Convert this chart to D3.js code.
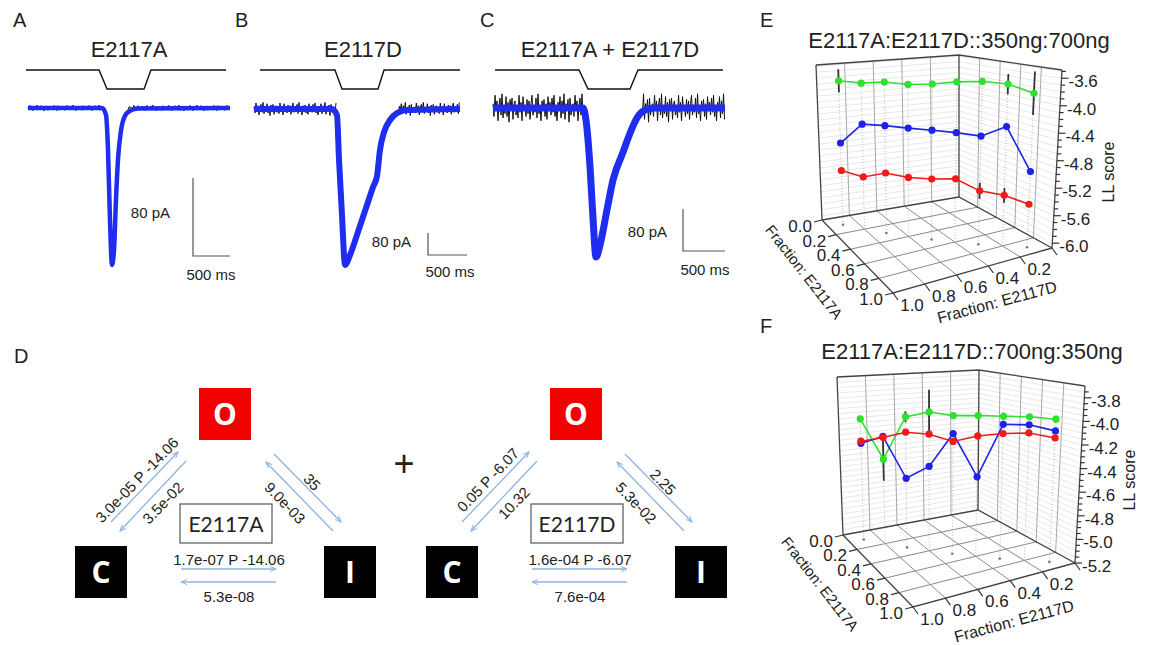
<!DOCTYPE html>
<html>
<head>
<meta charset="utf-8">
<script src="https://cdn.jsdelivr.net/npm/d3@7"></script>
<style>
body { margin: 0; background: #fff; }
svg text { font-family: "Liberation Sans", Arial, sans-serif; fill: #222; }
</style>
</head>
<body>
<div id="fig"></div>
<script>
// ---------- data ----------
const traceTitles = ["E2117A", "E2117D", "E2117A + E2117D"];

// averaged current traces: time (ms), current (pA)
const traceA_t = [0, 1000, 1054, 1081, 1108, 1135, 1162, 1189, 1216, 1257, 1311, 1378, 1486, 2730];
const traceA_i = [0, 0, -7, -43, -115, -161, -146, -94, -53, -23, -8, -3, -0.5, 0];
const traceB_t = [0, 1000, 1064, 1090, 1128, 1167, 1231, 1333, 1436, 1526, 1577, 1615, 1667, 1744, 1833, 1962, 2641];
const traceB_i = [0, 0, -22, -185, -385, -567, -531, -447, -360, -284, -244, -149, -84, -40, -15, -4, 0];
const traceC_t = [0, 1071, 1107, 1155, 1190, 1226, 1274, 1357, 1429, 1548, 1631, 1714, 1810, 1929, 2762];
const traceC_i = [0, 0, -23, -112, -208, -284, -261, -194, -137, -84, -48, -19, -4, 0, 0];

// stimulus protocol: time (ms) and level (1 = off, 0 = on)
const protoA_t = [-27, 960, 1068, 1568, 1662, 2676];
const protoB_t = [77, 1038, 1128, 1590, 1667, 2641];
const protoC_t = [24, 1024, 1131, 1631, 1726, 2738];
const protoLevel = [1, 1, 0, 0, 1, 1];

// single-trace noise seen behind the averages (relative units)
const noise = [0.3, -0.6, 0.9, -0.2, 0.5, -0.9, 0.2, 0.7, -0.5, 1.0, -0.7, 0.1, -0.4, 0.8, -0.6, 0.4, -1.0, 0.6, -0.1, 0.7,
  -0.8, 0.3, 0.5, -0.5, 0.2, -0.7, 0.9, -0.3, 0.4, -0.9, 0.8, -0.2, 0.1, -0.6, 0.6, -0.4, 0.5, -0.8, 0.3, 0.9,
  -0.5, 0.2, -0.3, 0.7, -0.7, 1.0, -0.4, 0.1, -0.9, 0.5, -0.2, 0.6, -0.6, 0.3, -0.8, 0.8, -0.1, 0.4, -0.5, 0.7,
  -0.3, 0.9, -0.6, 0.2, -0.9, 0.4, -0.1, 0.8, -0.7, 0.5, -0.4, 1.0, -0.8, 0.3, -0.2, 0.6, -1.0, 0.7, -0.5, 0.1];

// kinetic schemes
const stateNames = ["O", "C", "I"];
const mutantNames = ["E2117A", "E2117D"];
const rateCO = ["3.0e-05 P -14.06", "0.05 P -6.07"];
const rateOC = ["3.5e-02", "10.32"];
const rateOI = ["35", "2.25"];
const rateIO = ["9.0e-03", "5.3e-02"];
const rateCI = ["1.7e-07 P -14.06", "1.6e-04 P -6.07"];
const rateIC = ["5.3e-08", "7.6e-04"];

// LL scores vs. fractions (fraction E2117A + fraction E2117D = 1)
const fracA = [0.1, 0.2, 0.3, 0.4, 0.5, 0.6, 0.7, 0.8, 0.9];
const fracD = [0.9, 0.8, 0.7, 0.6, 0.5, 0.4, 0.3, 0.2, 0.1];
const fracTicks = [0, 0.2, 0.4, 0.6, 0.8, 1.0];

const eGreen = [-3.71, -3.72, -3.68, -3.70, -3.68, -3.64, -3.63, -3.67, -3.81];
const eBlue = [-4.73, -4.38, -4.37, -4.38, -4.39, -4.41, -4.45, -4.30, -4.96];
const eRed = [-5.18, -5.23, -5.12, -5.15, -5.14, -5.11, -5.27, -5.32, -5.44];
const eGreenErr = [0.19, 0, 0, 0, 0, 0, 0, 0.15, 0.32];
const eBlueErr = [0, 0, 0, 0, 0, 0, 0, 0, 0];
const eRedErr = [0, 0, 0, 0, 0, 0, 0.12, 0.11, 0];
const eTicks = [-3.6, -4.0, -4.4, -4.8, -5.2, -5.6, -6.0];

const fGreen = [-4.07, -4.42, -4.01, -3.95, -3.97, -3.96, -3.96, -3.96, -3.98];
const fBlue = [-4.30, -4.21, -4.57, -4.44, -4.13, -4.50, -4.03, -4.03, -4.08];
const fRed = [-4.28, -4.22, -4.15, -4.15, -4.20, -4.14, -4.11, -4.10, -4.14];
const fGreenErr = [0.02, 0.2, 0.05, 0.2, 0, 0, 0.03, 0, 0];
const fBlueErr = [0, 0, 0, 0, 0, 0, 0, 0, 0];
const fRedErr = [0, 0, 0, 0, 0, 0, 0, 0, 0];
const fTicks = [-3.8, -4.0, -4.2, -4.4, -4.6, -4.8, -5.0, -5.2];

// ---------- page ----------
const W = 1151, H = 645;
const svg = d3.select("#fig").append("svg").attr("width", W).attr("height", H);

const blue = "#1e2df0";

// panel letters
const letters = [["A", 13, 27], ["B", 235, 27], ["C", 480, 27], ["D", 14, 363], ["E", 760, 27], ["F", 760, 333]];
svg.selectAll("text.letter").data(letters).join("text")
  .attr("class", "letter")
  .attr("x", d => d[1]).attr("y", d => d[2])
  .attr("font-size", 20)
  .text(d => d[0]);

// ---------- A, B, C : current traces ----------
const tracePanels = [
  {title: traceTitles[0], cx: 129, t: traceA_t, i: traceA_i, proto: protoA_t, x0: 28, px500: 37, y0: 108, px80: 78,
   width: 4.5, amp: 3, quiet: [[0, 1010], [1350, 2730]], bar: [193, 256], pa: [170, 218], ms: [211, 280]},
  {title: traceTitles[1], cx: 363, t: traceB_t, i: traceB_i, proto: protoB_t, x0: 254, px500: 39, y0: 109, px80: 22,
   width: 6, amp: 24, quiet: [[0, 1060], [1850, 2641]], bar: [428, 255], pa: [411, 247], ms: [450, 277]},
  {title: traceTitles[2], cx: 610, t: traceC_t, i: traceC_i, proto: protoC_t, x0: 493, px500: 42, y0: 108, px80: 42,
   width: 7, amp: 27, quiet: [[0, 1085], [1780, 2762]], bar: [683, 251], pa: [667, 237], ms: [705, 275]}
];

tracePanels.forEach(p => {
  const g = svg.append("g");
  const x = d3.scaleLinear().domain([0, 500]).range([p.x0, p.x0 + p.px500]);
  const y = d3.scaleLinear().domain([0, -80]).range([p.y0, p.y0 + p.px80]);
  const yp = d3.scaleLinear().domain([0, 1]).range([89, 70]);

  // title
  g.append("text").attr("x", p.cx).attr("y", 57).attr("text-anchor", "middle")
    .attr("font-size", 22).text(p.title);

  // stimulus protocol
  g.append("path")
    .datum(p.proto.map((t, k) => [x(t), yp(protoLevel[k])]))
    .attr("fill", "none").attr("stroke", "#111").attr("stroke-width", 1.4)
    .attr("d", d3.line());

  // noisy single traces on the baseline
  const step = x.invert(x(0) + 1) - x.invert(x(0));
  p.quiet.forEach(([t0, t1]) => {
    const pts = [];
    let k = Math.round(t0 / step);
    for (let t = t0; t <= t1; t += step, k++) pts.push([x(t), y(noise[k % noise.length] * p.amp)]);
    g.append("path").datum(pts)
      .attr("fill", "none").attr("stroke", "#111").attr("stroke-width", 1)
      .attr("d", d3.line());
  });

  // averaged trace
  g.append("path")
    .datum(p.t.map((t, k) => [x(t), y(p.i[k])]))
    .attr("fill", "none").attr("stroke", blue).attr("stroke-width", p.width)
    .attr("stroke-linejoin", "round")
    .attr("d", d3.line().curve(d3.curveMonotoneX));

  // scale bars
  const bx = p.bar[0], by = p.bar[1];
  const lenT = x(500) - x(0), lenI = y(-80) - y(0);
  g.append("path")
    .attr("d", `M${bx},${by - lenI}V${by}H${bx + lenT}`)
    .attr("fill", "none").attr("stroke", "#555").attr("stroke-width", 1.2);
  g.append("text").attr("x", p.pa[0]).attr("y", p.pa[1]).attr("text-anchor", "end")
    .attr("font-size", 15).attr("fill", "#333").text("80 pA");
  g.append("text").attr("x", p.ms[0]).attr("y", p.ms[1]).attr("text-anchor", "middle")
    .attr("font-size", 15).attr("fill", "#333").text("500 ms");
});

// ---------- D : kinetic schemes ----------
const defs = svg.append("defs");
defs.append("marker")
  .attr("id", "arr").attr("viewBox", "0 -4 8 8")
  .attr("refX", 7).attr("refY", 0)
  .attr("markerWidth", 7).attr("markerHeight", 7)
  .attr("markerUnits", "userSpaceOnUse")
  .attr("orient", "auto")
  .append("path").attr("d", "M0,-3L7,0L0,3")
  .attr("fill", "none").attr("stroke", "#8db4e2").attr("stroke-width", 1.1);

const stateBox = {O: [199, 388, "#f20000"], C: [75, 546, "#000"], I: [324, 546, "#000"]};
const arrowLayout = [
  {rates: rateCO, p: [[111, 522], [178, 452]], lab: [137, 480], rot: -46},
  {rates: rateOC, p: [[186, 461], [120, 531]], lab: [163, 503], rot: -46},
  {rates: rateIO, p: [[333, 531], [266, 462]], lab: [285, 503], rot: 46},
  {rates: rateOI, p: [[274, 454], [341, 522]], lab: [312, 482], rot: 46},
  {rates: rateCI, p: [[181, 569], [276, 569]], lab: [229, 560], rot: 0},
  {rates: rateIC, p: [[276, 582], [181, 582]], lab: [229, 597], rot: 0}
];

mutantNames.forEach((name, m) => {
  const g = svg.append("g").attr("transform", `translate(${m * 351},0)`);

  // states
  stateNames.forEach(s => {
    const b = stateBox[s];
    g.append("rect").attr("x", b[0]).attr("y", b[1]).attr("width", 52).attr("height", 52).attr("fill", b[2]);
    g.append("text").attr("x", b[0] + 26).attr("y", b[1] + 26).attr("dy", "0.36em")
      .attr("text-anchor", "middle").attr("font-size", 30).attr("font-weight", 700)
      .style("font-family", "'Open Sans', sans-serif").style("fill", "#fff")
      .text(s);
  });

  // mutant label
  g.append("rect").attr("x", 180).attr("y", 504).attr("width", 92).attr("height", 39)
    .attr("fill", "#fff").attr("stroke", "#555").attr("stroke-width", 1.2);
  g.append("text").attr("x", 226).attr("y", 524).attr("dy", "0.36em").attr("text-anchor", "middle")
    .attr("font-size", 21).style("font-family", "Lato, sans-serif").text(name);

  // transitions
  arrowLayout.forEach(a => {
    g.append("line")
      .attr("x1", a.p[0][0]).attr("y1", a.p[0][1]).attr("x2", a.p[1][0]).attr("y2", a.p[1][1])
      .attr("stroke", "#8db4e2").attr("stroke-width", 1.3).attr("marker-end", "url(#arr)");
    g.append("text")
      .attr("transform", `translate(${a.lab[0]},${a.lab[1]}) rotate(${a.rot})`)
      .attr("dy", "0.35em").attr("text-anchor", "middle")
      .attr("font-size", 15).attr("fill", "#333")
      .text(a.rates[m]);
  });
});

svg.append("text").attr("x", 404).attr("y", 463).attr("dy", "0.35em").attr("text-anchor", "middle")
  .attr("font-size", 36).text("+");

// ---------- E, F : LL score surfaces ----------
function makeProj(c, zDom) {
  const zs = d3.scaleLinear().domain(zDom).range([0, 1]);
  return (a, d, v) => {
    const h = zs(v);
    const w = [(1 - a) * (1 - d), (1 - a) * d, a * (1 - d), a * d];
    const at = (s, k) => w[0] * s.B[k] + w[1] * s.L[k] + w[2] * s.R[k] + w[3] * s.F[k];
    return [0, 1].map(k => at(c.floor, k) + h * (at(c.top, k) - at(c.floor, k)));
  };
}

const plots = [
  {title: "E2117A:E2117D::350ng:700ng", tx: 959, ty: 48, zDom: [-6.07, -3.48], ticks: eTicks, minor: 0.2,
   corners: {floor: {B: [959, 197], L: [822, 220], R: [1052, 248], F: [893, 293]},
             top: {B: [959, 55], L: [816, 65], R: [1062, 70], F: [892, 94]}},
   series: [{v: eGreen, e: eGreenErr, c: "#2fe02f"}, {v: eBlue, e: eBlueErr, c: "#1f22e6"}, {v: eRed, e: eRedErr, c: "#f01a1a"}],
   ll: [1108, 172], fa: [804, 272], fd: [997, 302]},
  {title: "E2117A:E2117D::700ng:350ng", tx: 972, ty: 359, zDom: [-5.2, -3.7], ticks: fTicks, minor: 0.1,
   corners: {floor: {B: [978, 510], L: [843, 535], R: [1075, 563], F: [913, 607]},
             top: {B: [979, 370], L: [837, 377], R: [1085, 386], F: [913, 408]}},
   series: [{v: fGreen, e: fGreenErr, c: "#2fe02f"}, {v: fBlue, e: fBlueErr, c: "#1f22e6"}, {v: fRed, e: fRedErr, c: "#f01a1a"}],
   ll: [1129, 480], fa: [820, 584], fd: [1014, 621]}
];

plots.forEach(cfg => {
  const g = svg.append("g");
  const P = makeProj(cfg.corners, cfg.zDom);
  const z0 = cfg.zDom[0], z1 = cfg.zDom[1];
  const line = d3.line();
  const inner = fracTicks.slice(1, -1);

  g.append("text").attr("x", cfg.tx).attr("y", cfg.ty).attr("text-anchor", "middle")
    .attr("font-size", 22).text(cfg.title);

  // wall grid (z levels)
  const zMinor = d3.range(cfg.ticks[cfg.ticks.length - 1], z1, cfg.minor / 2);
  const hGrid = [];
  zMinor.forEach(z => hGrid.push([P(0, 1, z), P(0, 0, z), P(1, 0, z)]));
  g.selectAll(null).data(hGrid).join("path")
    .attr("d", line).attr("fill", "none").attr("stroke", "#e2e2e2").attr("stroke-width", 0.8);

  // wall verticals and floor grid
  const vGrid = [], fGrid = [];
  inner.forEach(k => {
    vGrid.push([P(0, k, z0), P(0, k, z1)], [P(k, 0, z0), P(k, 0, z1)]);
    fGrid.push([P(k, 0, z0), P(k, 1, z0)], [P(0, k, z0), P(1, k, z0)]);
  });
  g.selectAll(null).data(vGrid).join("path")
    .attr("d", line).attr("stroke", "#a8a8a8").attr("stroke-width", 1);
  g.selectAll(null).data(fGrid).join("path")
    .attr("d", line).attr("stroke", "#8a8a8a").attr("stroke-width", 1);

  // drop lines from the points to the floor
  const drops = fracA.map((a, i) => [P(a, fracD[i], z0), P(a, fracD[i], d3.max(cfg.series, s => s.v[i]))]);
  g.selectAll(null).data(drops).join("path")
    .attr("d", line).attr("stroke", "#bbb").attr("stroke-width", 1).attr("stroke-dasharray", "1,2");
  g.selectAll(null).data(fracA.filter((a, i) => i % 2 === 0)).join("circle")
    .attr("cx", a => P(a, 1 - a, z0)[0]).attr("cy", a => P(a, 1 - a, z0)[1])
    .attr("r", 1.3).attr("fill", "#777");

  // box edges
  const edges = [
    [P(0, 1, z0), P(0, 1, z1)], [P(0, 0, z0), P(0, 0, z1)], [P(1, 0, z0), P(1, 0, z1)],
    [P(0, 1, z1), P(0, 0, z1), P(1, 0, z1)], [P(0, 1, z0), P(0, 0, z0), P(1, 0, z0)],
    [P(0, 1, z0), P(1, 1, z0), P(1, 0, z0)]
  ];
  g.selectAll(null).data(edges).join("path")
    .attr("d", line).attr("fill", "none").attr("stroke", "#444").attr("stroke-width", 1.3);

  // series
  cfg.series.forEach(s => {
    const pts = fracA.map((a, i) => P(a, fracD[i], s.v[i]));
    g.append("path").datum(pts).attr("d", line)
      .attr("fill", "none").attr("stroke", s.c).attr("stroke-width", 1.6);
    const bars = fracA.map((a, i) => [P(a, fracD[i], s.v[i] - s.e[i]), P(a, fracD[i], s.v[i] + s.e[i])])
      .filter((b, i) => s.e[i] > 0);
    g.selectAll(null).data(bars).join("path")
      .attr("d", line).attr("stroke", "#333").attr("stroke-width", 1.8);
    g.selectAll(null).data(pts).join("circle")
      .attr("cx", d => d[0]).attr("cy", d => d[1]).attr("r", 3.6).attr("fill", s.c);
  });

  // z axis (LL score) on the right edge
  zMinor.forEach(z => {
    const e = P(1, 0, z);
    const major = cfg.ticks.some(t => Math.abs(t - z) < 1e-6);
    g.append("line").attr("x1", e[0]).attr("y1", e[1]).attr("x2", e[0] + (major ? 7 : 4)).attr("y2", e[1])
      .attr("stroke", "#333").attr("stroke-width", 1.2);
  });
  cfg.ticks.forEach(z => {
    const e = P(1, 0, z);
    g.append("text").attr("x", e[0] + 7).attr("y", e[1] + 3).attr("dy", "0.35em")
      .attr("font-size", 17).text(z.toFixed(1));
  });
  g.append("text")
    .attr("transform", `translate(${cfg.ll[0]},${cfg.ll[1]}) rotate(-90)`)
    .attr("text-anchor", "middle").attr("dy", "0.35em").attr("font-size", 16).text("LL score");

  // fraction E2117A axis
  fracTicks.forEach(a => {
    const e = P(a, 1, z0);
    g.append("line").attr("x1", e[0]).attr("y1", e[1]).attr("x2", e[0] - 8).attr("y2", e[1] + 2)
      .attr("stroke", "#333").attr("stroke-width", 1.2);
    g.append("text").attr("x", e[0] - 10).attr("y", e[1] + 6).attr("dy", "0.35em")
      .attr("text-anchor", "end").attr("font-size", 17).text(a.toFixed(1));
  });
  g.append("text")
    .attr("transform", `translate(${cfg.fa[0]},${cfg.fa[1]}) rotate(52)`)
    .attr("text-anchor", "middle").attr("dy", "0.35em").attr("font-size", 15).text("Fraction: E2117A");

  // fraction E2117D axis
  fracTicks.forEach(d => {
    const e = P(1, d, z0);
    g.append("line").attr("x1", e[0]).attr("y1", e[1]).attr("x2", e[0] + 5).attr("y2", e[1] + 7)
      .attr("stroke", "#333").attr("stroke-width", 1.2);
    if (d > 0) g.append("text").attr("x", e[0] + 19).attr("y", e[1] + 12).attr("dy", "0.35em")
      .attr("text-anchor", "middle").attr("font-size", 17).text(d.toFixed(1));
  });
  g.append("text")
    .attr("transform", `translate(${cfg.fd[0]},${cfg.fd[1]}) rotate(-15)`)
    .attr("text-anchor", "middle").attr("dy", "0.35em").attr("font-size", 16).text("Fraction: E2117D");
});
</script>
</body>
</html>
